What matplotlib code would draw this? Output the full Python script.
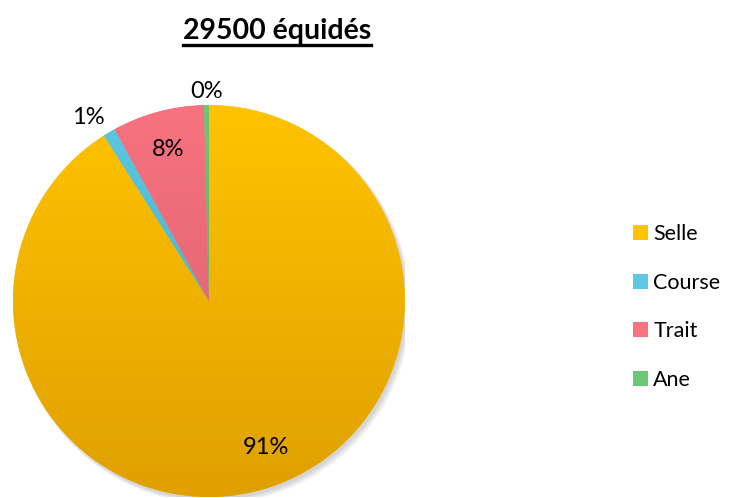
import numpy as np
import matplotlib
matplotlib.use("Agg")
import matplotlib.pyplot as plt
from matplotlib.colors import LinearSegmentedColormap
from matplotlib.patches import Circle

categories = ["Selle", "Course", "Trait", "Ane"]
values = [91.0, 1.0, 7.6, 0.4]
pct_labels = ["91%", "1%", "8%", "0%"]
title = "29500 équidés"

top_colors = ["#FFC300", "#5CC8E4", "#F8727F", "#6CC877"]
bot_colors = ["#DFA000", "#3FA6C0", "#D65E6E", "#4EA55C"]

plt.rcParams['font.family'] = ['Lato', 'DejaVu Sans']

fig = plt.figure(figsize=(7.31, 4.98), dpi=100)
ax = fig.add_axes([0.0178, 0.002, 0.536, 0.787])
ax.set_xlim(-1, 1)
ax.set_ylim(-1, 1)
ax.set_aspect('equal')
ax.axis('off')

# soft shadow
for i in range(4):
    ax.add_patch(Circle((0.010 + 0.004 * i, -0.014 - 0.004 * i), 1.0 + 0.003 * i,
                        color='black', alpha=0.045, lw=0, zorder=0))

wedges, _ = ax.pie(values, startangle=90, counterclock=False, radius=1.0,
                   colors=top_colors, wedgeprops=dict(lw=0))
ax.set_xlim(-1, 1)
ax.set_ylim(-1, 1)

grad = np.linspace(0, 1, 256).reshape(-1, 1)
for w, c1, c2 in zip(wedges, top_colors, bot_colors):
    cmap = LinearSegmentedColormap.from_list("g", [c1, c2])
    im = ax.imshow(grad, cmap=cmap, extent=[-1, 1, -1, 1], origin='upper',
                   aspect='auto', zorder=2)
    im.set_clip_path(w)

# labels
label_r = [0.80, 1.12, 0.80, 1.07]
for w, lab, r in zip(wedges, pct_labels, label_r):
    ang = np.deg2rad((w.theta1 + w.theta2) / 2)
    if lab == "1%":
        ang = np.deg2rad(w.theta1 + 4.5)
    if lab == "91%":
        ang = ang + np.deg2rad(5)
    ax.text(r * np.cos(ang), r * np.sin(ang), lab, ha='center', va='center',
            fontsize=17, color='black', zorder=5, clip_on=False)

# legend
handles = [plt.Rectangle((0, 0), 1, 1, facecolor=c, edgecolor='none') for c in top_colors]
leg = fig.legend(handles, categories, loc='center left', bbox_to_anchor=(0.839, 0.3835),
                 frameon=False, fontsize=15.5, handlelength=0.7, handleheight=0.7,
                 handletextpad=0.25, labelspacing=1.33)

# title with underline
t = fig.text(0.379, 0.937, title, ha='center', va='center', fontsize=20.5, fontweight='bold')
fig.canvas.draw()
bb = t.get_window_extent().transformed(fig.transFigure.inverted())
fig.add_artist(plt.Line2D([bb.x0, bb.x1], [bb.y0 - 0.002, bb.y0 - 0.002],
                          transform=fig.transFigure, color='black', lw=2.4))

fig.savefig("out.png", dpi=100)
